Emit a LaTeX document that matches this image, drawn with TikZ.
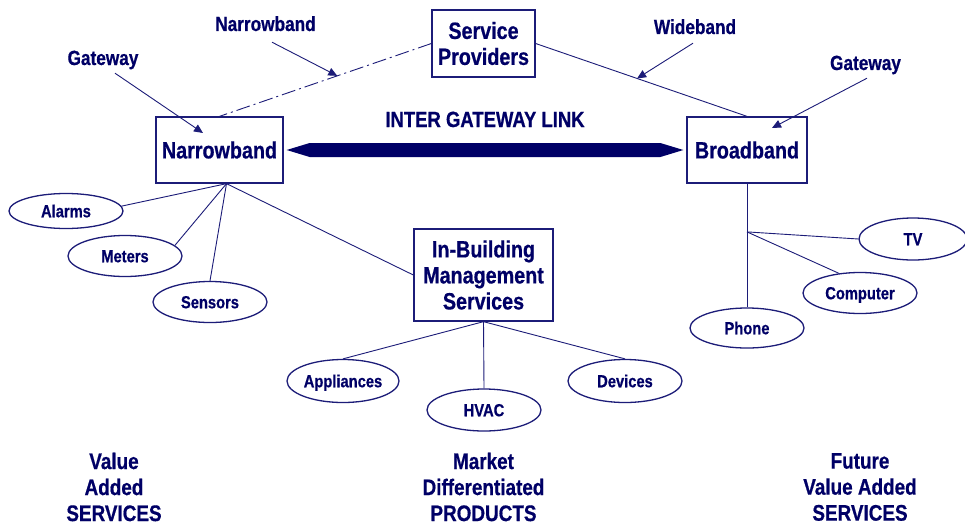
\documentclass[tikz,border=0pt]{standalone}
\usepackage{fontspec}
\setmainfont{Liberation Sans}[FakeStretch=0.84, FakeBold=0.6]
\usetikzlibrary{arrows.meta,shapes.geometric,calc}
\definecolor{navy}{RGB}{0,0,102}
\definecolor{linecol}{RGB}{28,28,120}

\begin{document}
\begin{tikzpicture}[x=1pt,y=-1pt,
  every node/.style={text=navy, font=\bfseries},
  box/.style={draw=linecol, line width=1.3pt, rectangle, inner sep=0pt, align=center,
    font=\bfseries\fontsize{23.5}{26}\selectfont},
  bubble/.style={draw=linecol, line width=1.3pt, ellipse, inner sep=0pt,
    minimum width=114pt, minimum height=41pt, text height=12.5pt, text depth=0pt,
    font=\bfseries\fontsize{17.5}{20}\selectfont},
  callout/.style={anchor=base, inner sep=0pt, text depth=0pt,
    font=\bfseries\fontsize{20.5}{24}\selectfont},
  footer/.style={align=center, inner sep=0pt, font=\bfseries\fontsize{22.5}{26}\selectfont},
  conn/.style={draw=linecol, line width=0.9pt},
  pointer/.style={conn, -{Triangle[length=9pt,width=8pt]}},
]
\fill[white] (0,0) rectangle (965,527);
\useasboundingbox (0,0) rectangle (965,527);

% main boxes
\node[box, minimum width=103pt, minimum height=67pt] (sp) at (483.5,43.5) {Service\\Providers};
\node[box, minimum width=127pt, minimum height=66pt] (nb) at (219.5,150) {Narrowband};
\node[box, minimum width=120pt, minimum height=66pt] (bb) at (747,150) {Broadband};
\node[box, minimum width=139pt, minimum height=92pt] (ibm) at (483.5,275) {In-Building\\Management\\Services};

% end devices
\node[bubble, minimum height=35pt] (alarms) at (66,211) {Alarms};
\node[bubble] (meters) at (125,256) {Meters};
\node[bubble] (sensors) at (210,302) {Sensors};
\node[bubble, minimum width=112pt, minimum height=43pt] (appl) at (343,381) {Appliances};
\node[bubble, minimum height=42pt] (hvac) at (484,410) {HVAC};
\node[bubble, minimum height=43pt] (dev) at (625,381) {Devices};
\node[bubble, minimum height=40pt] (phone) at (747,328) {Phone};
\node[bubble] (computer) at (860,293) {Computer};
\node[bubble, minimum width=108pt, minimum height=42pt] (tv) at (913,239) {TV};

% callout labels
\node[callout] (gwl) at (103,65) {Gateway};
\node[callout] (nbl) at (265.5,31) {Narrowband};
\node[callout] (wbl) at (695,34) {Wideband};
\node[callout] (gwr) at (865.5,70) {Gateway};
\node[callout, font=\bfseries\fontsize{22}{26}\selectfont] (igl) at (485,127) {INTER GATEWAY LINK};

% provider links
\draw[conn, dash pattern=on 14pt off 4pt on 2pt off 4pt] (sp.west) -- (nb.north);
\draw[conn] (sp.east) -- (bb.north);

% inter gateway link
\coordinate (linkL) at ([xshift=3pt]nb.east);
\coordinate (linkR) at ([xshift=-3pt]bb.west);
\fill[navy] (linkL) -- ($(linkL)+(23,-7)$) -- ($(linkR)+(-23,-7)$) -- (linkR)
  -- ($(linkR)+(-23,7)$) -- ($(linkL)+(23,7)$) -- cycle;

% narrowband side
\coordinate (nbhub) at ([xshift=7pt]nb.south);
\draw[conn] (nbhub) -- (alarms.5);
\draw[conn] (nbhub) -- (meters.12);
\draw[conn] (nbhub) -- (sensors.north);
\draw[conn] (nbhub) -- (ibm.west);

% in-building services
\draw[conn] (ibm.south) -- (appl.north);
\draw[conn] (ibm.south) -- (hvac.north);
\draw[conn] (ibm.south) -- (dev.north);

% broadband side
\coordinate (bbhub) at ($(bb.south)!0.39!(phone.north)$);
\draw[conn] (bb.south) -- (phone.north);
\draw[conn] (bbhub) -- (tv.west);
\draw[conn] (bbhub) -- (computer.137);

% callout pointers
\draw[pointer] ([shift={(12,8)}]gwl.south) -- ([shift={(-16.5,-17)}]nb.center);
\draw[pointer] ([shift={(6.5,11)}]nbl.south) -- ($(sp.west)!0.444!(nb.north)$);
\draw[pointer] ([shift={(-2,9)}]wbl.south) -- ($(sp.east)!0.48!(bb.north)$);
\draw[pointer] ([shift={(1.5,8)}]gwr.south) -- ([shift={(25,-22)}]bb.center);

% column captions
\node[footer] (capL) at (114,487) {Value\\Added\\SERVICES};
\node[footer] (capM) at (483.5,487) {Market\\Differentiated\\PRODUCTS};
\node[footer] (capR) at (860,487) {Future\\Value Added\\SERVICES};
\end{tikzpicture}
\end{document}
